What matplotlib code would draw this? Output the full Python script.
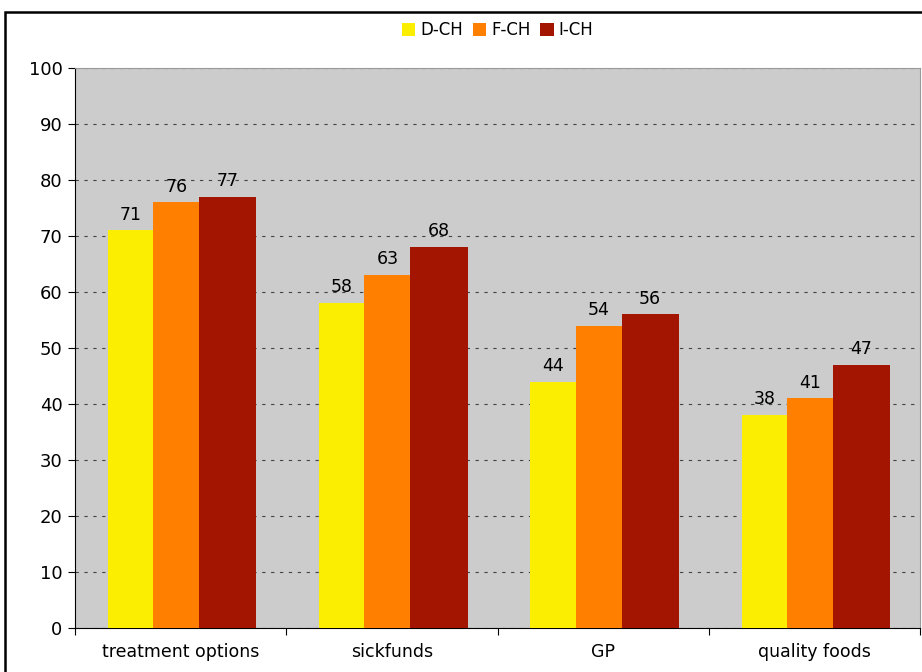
import numpy as np
import matplotlib.pyplot as plt
from matplotlib.patches import Rectangle

categories = ['treatment options', 'sickfunds', 'GP', 'quality foods']
series = ['D-CH', 'F-CH', 'I-CH']
d_ch = [71, 58, 44, 38]
f_ch = [76, 63, 54, 41]
i_ch = [77, 68, 56, 47]
colors = ['#FCEE00', '#FF7F00', '#A31500']

fig = plt.figure(figsize=(9.22, 6.72), dpi=100)
ax = fig.add_axes([75/922, 44/672, 845/922, 560/672])
ax.set_facecolor('#CCCCCC')

x = np.arange(len(categories))
# bar edges measured relative to category start
lefts = [0.156, 0.370, 0.588]
rights = [0.370, 0.588, 0.858]
for vals, lft, rgt, col, name in zip([d_ch, f_ch, i_ch], lefts, rights, colors, series):
    bars = ax.bar(x + lft, vals, width=rgt - lft, align='edge', color=col,
                  label=name, zorder=3)
    for b, v in zip(bars, vals):
        ax.text(b.get_x() + b.get_width() / 2, v + 1.2, str(v), ha='center',
                va='bottom', fontsize=12.5, zorder=4)

ax.set_xlim(0, len(categories))
ax.set_ylim(0, 100)
ax.set_yticks(range(0, 101, 10))
ax.set_xticks(np.arange(len(categories) + 1))
ax.set_xticklabels([])
ax.set_xticks(x + 0.5, minor=True)
ax.set_xticklabels(categories, minor=True, fontsize=12.5)
ax.tick_params(axis='x', which='minor', length=0, pad=11)
ax.tick_params(axis='x', which='major', length=5, direction='out')
ax.tick_params(axis='y', length=5, labelsize=13, pad=4)
ax.yaxis.grid(True, linestyle=(0, (3, 5)), color='#444444', linewidth=0.8, zorder=1)
for s in ['top', 'right']:
    ax.spines[s].set_color('#999999')
for s in ['left', 'bottom']:
    ax.spines[s].set_color('black')

ax.legend(loc='upper center', bbox_to_anchor=(0.5, 1.11), ncol=3, frameon=False,
          fontsize=12, handlelength=0.8, handleheight=0.8, handletextpad=0.3,
          columnspacing=0.6)

fig.patches.append(Rectangle((5/922, -0.05), 1.0, (672 - 12)/672 + 0.05,
                             transform=fig.transFigure, fill=False,
                             edgecolor='black', linewidth=1.8))

fig.savefig('out.png', dpi=100)
